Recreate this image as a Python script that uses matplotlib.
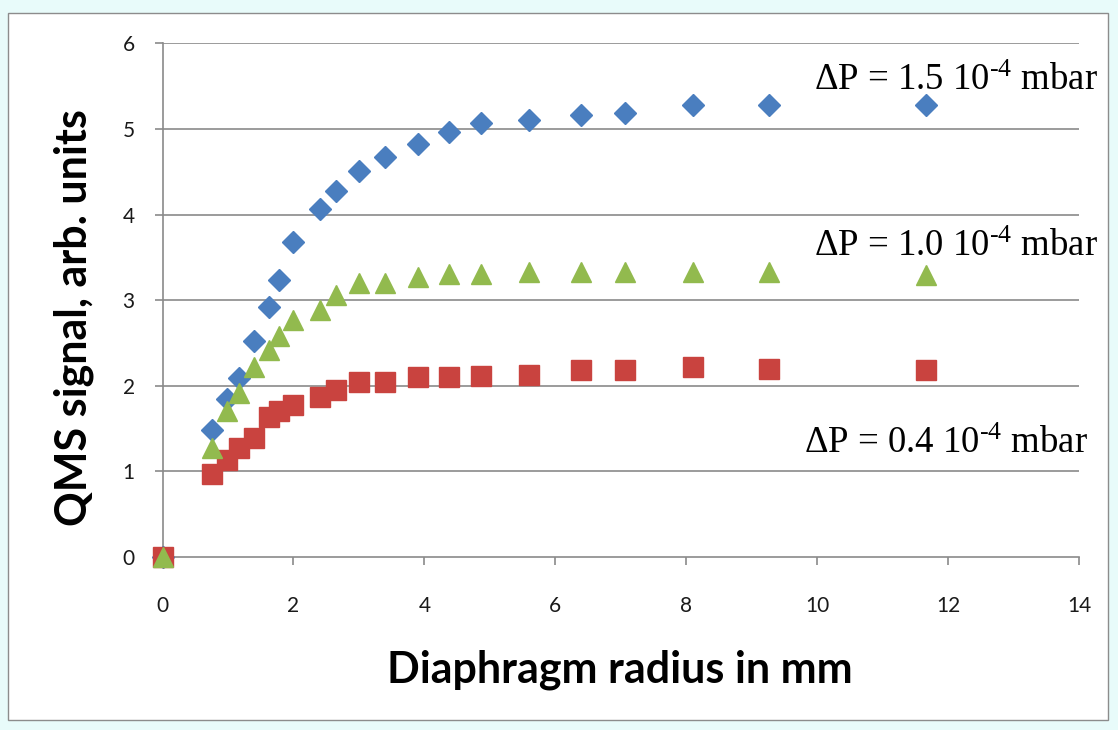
import numpy as np
import matplotlib.pyplot as plt
from matplotlib.patches import Rectangle

plt.rcParams["mathtext.fontset"] = "custom"
plt.rcParams["mathtext.rm"] = "Liberation Serif"
plt.rcParams["mathtext.it"] = "Liberation Serif:italic"

# diaphragm radius in mm (shared by all three series)
radius = [0, 0.75, 0.99, 1.17, 1.40, 1.62, 1.78, 1.99, 2.40, 2.65, 3.00, 3.40,
          3.90, 4.38, 4.87, 5.60, 6.40, 7.07, 8.11, 9.26, 11.66]

# QMS signal, arb. units
sig_15 = [0, 1.48, 1.84, 2.09, 2.52, 2.92, 3.24, 3.68, 4.07, 4.28, 4.51, 4.67,
          4.83, 4.96, 5.07, 5.11, 5.16, 5.19, 5.28, 5.28, 5.28]
sig_10 = [0, 1.27, 1.70, 1.92, 2.22, 2.42, 2.58, 2.77, 2.89, 3.06, 3.20, 3.20,
          3.27, 3.31, 3.31, 3.33, 3.33, 3.33, 3.33, 3.33, 3.29]
sig_04 = [0, 0.97, 1.13, 1.27, 1.39, 1.64, 1.70, 1.78, 1.87, 1.95, 2.05, 2.05,
          2.10, 2.10, 2.11, 2.13, 2.18, 2.19, 2.22, 2.20, 2.18]

labels = [r"ΔP = 1.5 10$^{\text{-}4}$ mbar",
          r"ΔP = 1.0 10$^{\text{-}4}$ mbar",
          r"ΔP = 0.4 10$^{\text{-}4}$ mbar"]

blue = "#4a7ebf"
red = "#c9433f"
green = "#92ba4e"
grid = "#8a8a8a"

fig = plt.figure(figsize=(11.18, 7.30), dpi=100, facecolor="#e8fbfa")
# chart area frame
fig.patches.append(Rectangle((8 / 1118, 1 - 720 / 730), 1100 / 1118, 707 / 730,
                             transform=fig.transFigure, facecolor="white",
                             edgecolor="#8c8c8c", linewidth=1.0, zorder=-1))

ax = fig.add_axes([162.5 / 1118, 1 - 557 / 730, (1079 - 162.5) / 1118, (557 - 43.4) / 730])
ax.set_facecolor("white")

ax.plot(radius, sig_15, ls="none", marker="D", ms=11, color=blue, clip_on=False, zorder=3)
ax.plot(radius, sig_04, ls="none", marker="s", ms=15, color=red, clip_on=False, zorder=4)
ax.plot(radius, sig_10, ls="none", marker="^", ms=15, color=green, clip_on=False, zorder=5)

ax.set_xlim(0, 14)
ax.set_ylim(0, 6)
ax.set_xticks(np.arange(0, 15, 2))
ax.set_yticks(np.arange(0, 7, 1))

for y in range(1, 7):
    ax.axhline(y, color=grid, lw=1.2, zorder=1)

for s in ["top", "right"]:
    ax.spines[s].set_visible(False)
for s in ["left", "bottom"]:
    ax.spines[s].set_color(grid)
    ax.spines[s].set_linewidth(1.2)

ax.tick_params(axis="x", direction="out", length=6, width=1.2, color=grid, pad=22,
               labelsize=15, labelcolor="#1a1a1a")
ax.tick_params(axis="y", direction="out", length=6, width=1.2, color=grid, pad=14,
               labelsize=15, labelcolor="#1a1a1a")
for t in ax.get_xticklabels() + ax.get_yticklabels():
    t.set_family("Lato")

fig.text(620 / 1118, 1 - 670 / 730, "Diaphragm radius in mm", ha="center", va="center",
         fontsize=31, fontweight="bold", family="Lato")
fig.text(74 / 1118, 1 - 318 / 730, "QMS signal, arb. units", ha="center", va="center",
         rotation=90, fontsize=31, fontweight="bold", family="Lato")

ax.text(14.29, 5.56, labels[0], ha="right", va="center", fontsize=26.5, family="Liberation Serif")
ax.text(14.29, 3.63, labels[1], ha="right", va="center", fontsize=26.5, family="Liberation Serif")
ax.text(14.14, 1.32, labels[2], ha="right", va="center", fontsize=26.5, family="Liberation Serif")

plt.savefig("out.png", dpi=100, facecolor=fig.get_facecolor())
plt.close(fig)
